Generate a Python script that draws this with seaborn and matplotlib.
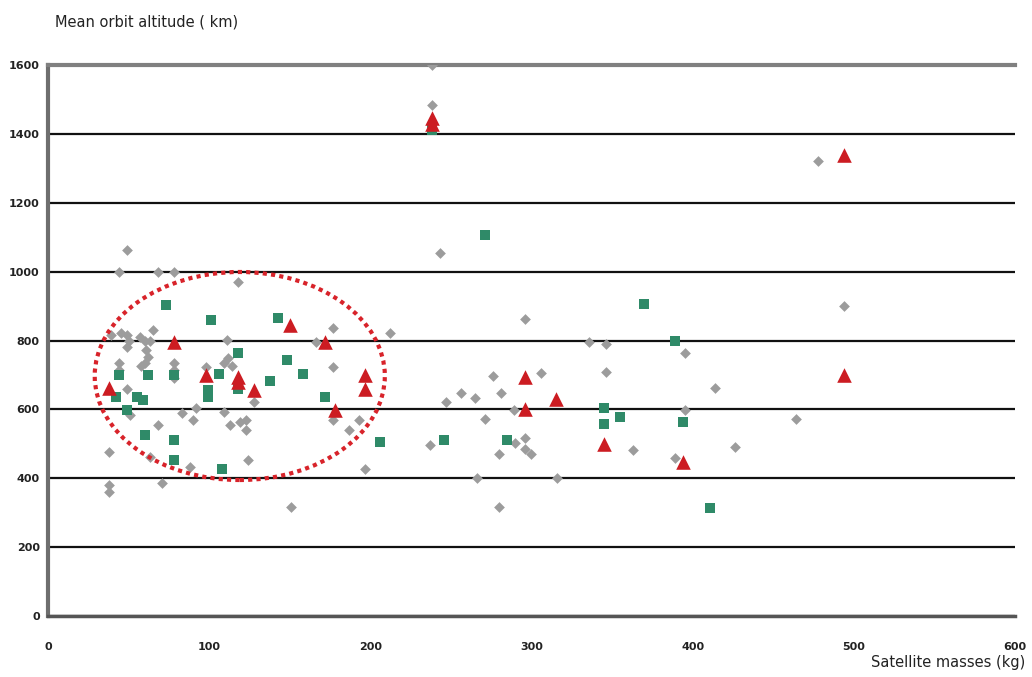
import matplotlib
matplotlib.use("Agg")
import matplotlib.pyplot as plt
from matplotlib.patches import Ellipse
import pandas as pd
import seaborn as sns

# -----------------------------
# Data
# -----------------------------
gray_mass = [49, 44, 68, 78, 39, 45, 49, 49, 50, 57, 60, 65, 63, 61, 62, 60, 58, 44, 44,
             78, 78, 78, 49, 51, 68, 83, 90, 38, 63, 88, 38, 38, 71, 118, 111, 112, 109,
             114, 177, 166, 98, 177, 128, 177, 109, 113, 119, 123, 123, 124, 193, 187,
             197, 151, 92, 238, 238, 243, 212, 296, 276, 306, 256, 265, 247, 281, 289,
             271, 237, 290, 296, 280, 296, 300, 266, 316, 280, 336, 346, 395, 346, 414,
             395, 363, 389, 478, 494, 464, 426]
gray_alt = [1063, 1000, 1000, 1000, 816, 821, 816, 782, 800, 811, 800, 830, 800, 772, 752,
            734, 725, 734, 715, 734, 715, 690, 660, 584, 555, 589, 569, 477, 463, 434, 380,
            361, 385, 971, 801, 748, 734, 725, 835, 797, 724, 724, 622, 569, 593, 555, 564,
            569, 540, 453, 569, 540, 426, 317, 605, 1600, 1485, 1053, 821, 862, 698, 707,
            647, 632, 621, 647, 598, 571, 497, 503, 516, 472, 484, 472, 400, 400, 317, 797,
            790, 763, 710, 661, 598, 482, 458, 1322, 901, 571, 490]

green_mass = [73, 44, 78, 62, 42, 55, 59, 49, 60, 78, 78, 101, 143, 118, 148, 106, 118, 138,
              158, 99, 99, 172, 108, 206, 238, 271, 246, 285, 370, 389, 345, 355, 345, 394,
              411]
green_alt = [903, 700, 700, 700, 637, 637, 627, 598, 525, 511, 453, 860, 865, 763, 743, 703,
             658, 683, 703, 655, 635, 637, 426, 506, 1410, 1106, 511, 511, 905, 800, 603,
             579, 557, 564, 313]

red_mass = [78, 38, 150, 172, 98, 118, 118, 128, 197, 197, 178, 238, 238, 296, 296, 315, 345,
            394, 494, 494]
red_alt = [797, 661, 845, 797, 700, 695, 680, 656, 700, 658, 598, 1445, 1430, 695, 600, 629,
           499, 448, 1339, 700]

y_ticks = [0, 200, 400, 600, 800, 1000, 1200, 1400, 1600]
x_ticks = [0, 100, 200, 300, 400, 500, 600]

gray_df = pd.DataFrame({"mass": gray_mass, "alt": gray_alt})
green_df = pd.DataFrame({"mass": green_mass, "alt": green_alt})
red_df = pd.DataFrame({"mass": red_mass, "alt": red_alt})

sns.set_style("white")
plt.rcParams["font.family"] = ["DejaVu Sans"]

fig = plt.figure(figsize=(10.32, 6.77), dpi=100)
ax = fig.add_axes([0.0465, 0.090, 0.937, 0.814])

# -----------------------------
# Scatter layers
# -----------------------------
sns.scatterplot(data=gray_df, x="mass", y="alt", marker="D", s=30, color="#9c9c9c",
                linewidth=0, ax=ax, zorder=3)
sns.scatterplot(data=green_df, x="mass", y="alt", marker="s", s=55, color="#2f8a68",
                linewidth=0, ax=ax, zorder=4)
sns.scatterplot(data=red_df, x="mass", y="alt", marker="^", s=110, color="#cc1c22",
                linewidth=0, ax=ax, zorder=5)

# dotted ellipse around the small-satellite cluster
ax.add_patch(Ellipse((119, 697), 180, 604, fill=False, edgecolor="#d8232a",
                     linestyle=(0, (1, 1)), linewidth=3, zorder=6))

# -----------------------------
# Axes styling
# -----------------------------
ax.set_xlim(0, 600)
ax.set_ylim(0, 1600)
ax.set_xticks(x_ticks)
ax.set_yticks(y_ticks)
ax.set_xlabel("")
ax.set_ylabel("")
ax.yaxis.grid(True, color="#111111", linewidth=1.6)
ax.set_axisbelow(True)

for side in ["right"]:
    ax.spines[side].set_visible(False)
ax.spines["top"].set_color("#808080")
ax.spines["top"].set_linewidth(3)
ax.spines["left"].set_color("#6e6e6e")
ax.spines["left"].set_linewidth(3)
ax.spines["bottom"].set_color("#555555")
ax.spines["bottom"].set_linewidth(2.5)

ax.tick_params(axis="x", direction="inout", length=9, width=1.2, color="#555555",
               pad=14, labelsize=8)
ax.tick_params(axis="y", direction="out", length=4, width=1.2, color="#555555",
               pad=2, labelsize=8)
for lab in ax.get_xticklabels() + ax.get_yticklabels():
    lab.set_fontweight("bold")
    lab.set_color("#222222")

fig.text(0.053, 0.967, "Mean orbit altitude ( km)", fontsize=10.5, color="#222222",
         va="center", ha="left")
fig.text(0.993, 0.022, "Satellite masses (kg)", fontsize=10.5, color="#222222",
         va="center", ha="right")

fig.savefig("out.png", dpi=100)
